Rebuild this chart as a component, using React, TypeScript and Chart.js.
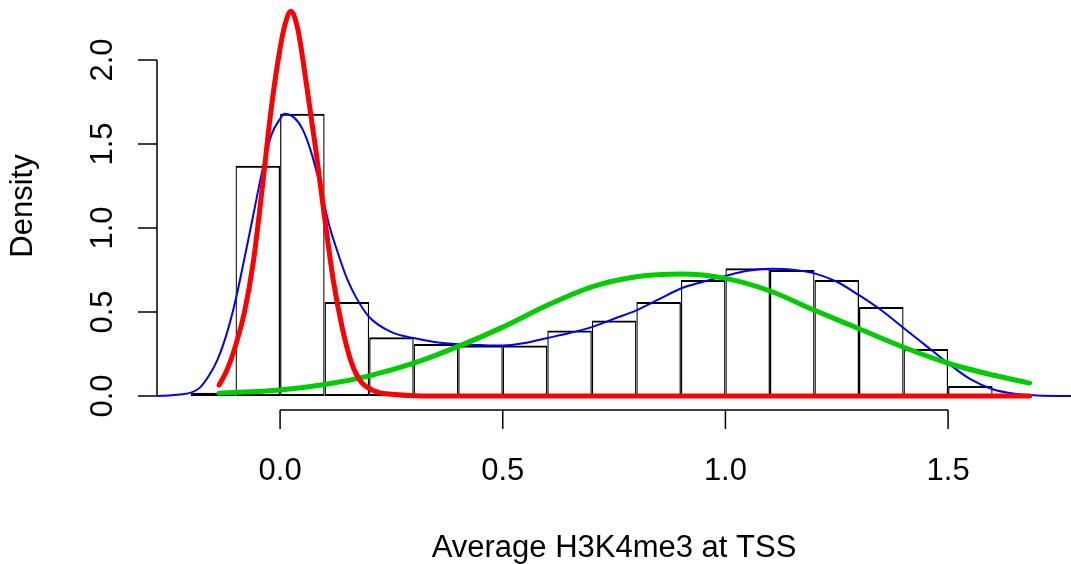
import React, { useEffect, useRef } from "react";
import { Chart, registerables } from "chart.js";

Chart.register(...registerables);

// Histogram bins (centers) and density heights
const binCenters = [-0.15, -0.05, 0.05, 0.15, 0.25, 0.35, 0.45, 0.55, 0.65, 0.75, 0.85, 0.95, 1.05, 1.15, 1.25, 1.35, 1.45, 1.55];
const histDensity = [0.02, 1.37, 1.68, 0.56, 0.35, 0.31, 0.30, 0.30, 0.39, 0.45, 0.56, 0.69, 0.76, 0.75, 0.69, 0.53, 0.28, 0.06];

// Kernel density estimate (blue)
const kdeX = [-0.276, -0.25, -0.22, -0.20, -0.18, -0.16, -0.14, -0.12, -0.10, -0.08, -0.06, -0.04, -0.02, 0.00, 0.01, 0.03, 0.05, 0.07, 0.09, 0.11, 0.13, 0.15, 0.17, 0.20, 0.25, 0.30, 0.35, 0.40, 0.45, 0.50, 0.55, 0.60, 0.65, 0.70, 0.75, 0.80, 0.85, 0.90, 0.95, 1.00, 1.05, 1.10, 1.15, 1.20, 1.25, 1.30, 1.35, 1.40, 1.45, 1.50, 1.55, 1.60, 1.65, 1.70, 1.776];
const kdeY = [0.0, 0.003, 0.01, 0.02, 0.05, 0.12, 0.22, 0.37, 0.57, 0.82, 1.08, 1.34, 1.55, 1.65, 1.68, 1.66, 1.59, 1.45, 1.25, 1.02, 0.85, 0.70, 0.59, 0.47, 0.38, 0.345, 0.32, 0.308, 0.303, 0.30, 0.315, 0.345, 0.375, 0.41, 0.46, 0.51, 0.575, 0.64, 0.68, 0.715, 0.745, 0.757, 0.752, 0.73, 0.68, 0.60, 0.51, 0.405, 0.30, 0.195, 0.10, 0.04, 0.013, 0.003, 0.0];

// First mixture component (red)
const redX = [-0.137, -0.12, -0.10, -0.08, -0.06, -0.04, -0.02, 0.00, 0.01, 0.024, 0.04, 0.06, 0.08, 0.10, 0.12, 0.14, 0.16, 0.18, 0.20, 0.22, 0.25, 0.30, 0.40, 0.60, 0.80, 1.00, 1.20, 1.40, 1.60, 1.683];
const redY = [0.065, 0.15, 0.30, 0.50, 0.80, 1.24, 1.71, 2.07, 2.20, 2.29, 2.18, 1.84, 1.47, 1.06, 0.68, 0.40, 0.20, 0.09, 0.045, 0.022, 0.01, 0.002, 0, 0, 0, 0, 0, 0, 0, 0];

// Second mixture component (green)
const greenX = [-0.137, 0.0, 0.1, 0.2, 0.3, 0.4, 0.5, 0.6, 0.7, 0.8, 0.9, 1.0, 1.1, 1.2, 1.3, 1.4, 1.5, 1.6, 1.683];
const greenY = [0.016, 0.036, 0.068, 0.12, 0.195, 0.295, 0.41, 0.54, 0.65, 0.71, 0.726, 0.70, 0.625, 0.51, 0.40, 0.29, 0.195, 0.125, 0.077];

const xTicks = [0.0, 0.5, 1.0, 1.5];
const yTicks = [0.0, 0.5, 1.0, 1.5, 2.0];
const xTitle = "Average H3K4me3 at TSS";
const yTitle = "Density";

const FONT = '31px "Liberation Sans", Arial, Helvetica, sans-serif';

const toPoints = (xs: number[], ys: number[]) => xs.map((x, i) => ({ x, y: ys[i] }));

const rAxesPlugin = {
  id: "rAxes",
  afterDatasetsDraw(chart: any) {
    const { ctx, chartArea, scales } = chart;
    const xs = scales.x;
    const ys = scales.y;
    const left = chartArea.left;
    const bottom = chartArea.bottom;
    const tick = 19;
    ctx.save();
    ctx.strokeStyle = "#000";
    ctx.fillStyle = "#000";
    ctx.lineWidth = 1.5;
    ctx.lineCap = "butt";

    // y axis
    ctx.beginPath();
    ctx.moveTo(left, ys.getPixelForValue(yTicks[0]));
    ctx.lineTo(left, ys.getPixelForValue(yTicks[yTicks.length - 1]));
    yTicks.forEach((v) => {
      const py = ys.getPixelForValue(v);
      ctx.moveTo(left - tick, py);
      ctx.lineTo(left, py);
    });
    // x axis
    ctx.moveTo(xs.getPixelForValue(xTicks[0]), bottom);
    ctx.lineTo(xs.getPixelForValue(xTicks[xTicks.length - 1]), bottom);
    xTicks.forEach((v) => {
      const px = xs.getPixelForValue(v);
      ctx.moveTo(px, bottom);
      ctx.lineTo(px, bottom + tick);
    });
    ctx.stroke();

    ctx.font = FONT;
    ctx.textAlign = "center";
    ctx.textBaseline = "alphabetic";
    // x tick labels
    xTicks.forEach((v) => {
      ctx.fillText(v.toFixed(1), xs.getPixelForValue(v), bottom + 70);
    });
    // y tick labels (rotated)
    yTicks.forEach((v) => {
      ctx.save();
      ctx.translate(left - 45.5, ys.getPixelForValue(v));
      ctx.rotate(-Math.PI / 2);
      ctx.fillText(v.toFixed(1), 0, 0);
      ctx.restore();
    });
    // titles
    ctx.fillText(xTitle, (chartArea.left + chartArea.right) / 2, bottom + 147);
    ctx.save();
    ctx.translate(31.5, 206);
    ctx.rotate(-Math.PI / 2);
    ctx.fillText(yTitle, 0, 0);
    ctx.restore();

    ctx.restore();
  },
};

export default function App() {
  const canvasRef = useRef<HTMLCanvasElement | null>(null);

  useEffect(() => {
    document.body.style.margin = "0";
    const canvas = canvasRef.current;
    if (!canvas) return;
    const chart = new Chart(canvas, {
      type: "bar",
      data: {
        datasets: [
          {
            type: "line",
            label: "red",
            data: toPoints(redX, redY),
            borderColor: "#FF0000",
            borderWidth: 5,
            borderCapStyle: "round",
            borderJoinStyle: "round",
            pointRadius: 0,
            cubicInterpolationMode: "monotone",
            fill: false,
            order: 0,
          } as any,
          {
            type: "line",
            label: "green",
            data: toPoints(greenX, greenY),
            borderColor: "#00CD00",
            borderWidth: 5,
            borderCapStyle: "round",
            borderJoinStyle: "round",
            pointRadius: 0,
            cubicInterpolationMode: "monotone",
            fill: false,
            order: 1,
          } as any,
          {
            type: "line",
            label: "kde",
            data: toPoints(kdeX, kdeY),
            borderColor: "#0000FF",
            borderWidth: 2,
            borderCapStyle: "round",
            pointRadius: 0,
            cubicInterpolationMode: "monotone",
            fill: false,
            order: 2,
          } as any,
          {
            type: "bar",
            label: "hist",
            data: toPoints(binCenters, histDensity),
            backgroundColor: "rgba(0,0,0,0)",
            borderColor: "#000",
            borderSkipped: false,
            borderWidth: { left: 1.25, right: 1.25, top: 2, bottom: 2 },
            barPercentage: 1,
            categoryPercentage: 1,
            inflateAmount: 0,
            order: 3,
          } as any,
        ],
      },
      options: {
        responsive: false,
        animation: false,
        events: [],
        layout: { padding: { left: 157, right: 0, top: 0, bottom: 154 } },
        plugins: { legend: { display: false }, tooltip: { enabled: false } },
        scales: {
          x: { type: "linear", min: -0.2764, max: 1.776, offset: false, display: false },
          y: { type: "linear", min: -0.0833, max: 2.357, display: false },
        },
      } as any,
      plugins: [rAxesPlugin],
    });
    return () => chart.destroy();
  }, []);

  return (
    <div style={{ width: 1071, height: 564, background: "#fff" }}>
      <canvas ref={canvasRef} width={1071} height={564} style={{ display: "block" }} />
    </div>
  );
}
